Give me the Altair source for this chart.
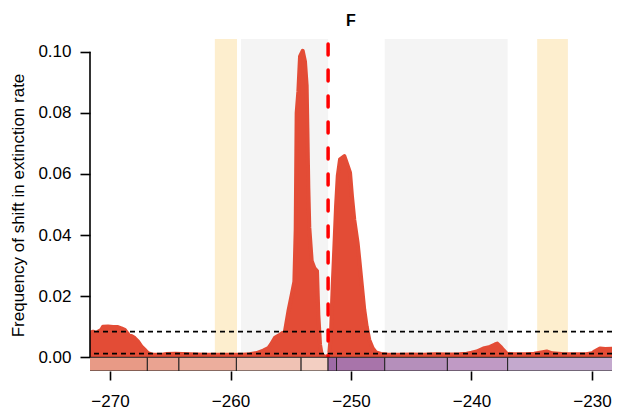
import altair as alt
import pandas as pd

# ---- data ----
age = [-271.66, -271.41, -271.2, -271.13, -271.0, -270.72, -270.58, -270.17, -269.75, -269.34,
       -269.06, -268.78, -268.56, -268.37, -268.23, -267.95, -267.68, -267.40, -267.12, -266.85,
       -266.43, -265.8, -265.3, -264.6, -264.0, -263.4, -262.8, -262.0, -261.0, -260.0,
       -259.0, -258.4, -257.83, -257.28, -256.86, -256.64, -256.31, -255.89, -255.48, -255.2,
       -254.92, -254.70, -254.59, -254.51, -254.37, -254.23, -254.01, -253.82, -253.68, -253.62,
       -253.54, -253.46, -253.26, -253.04, -252.82, -252.71, -252.57, -252.43, -252.2, -252.0,
       -251.85, -251.80, -251.66, -251.52, -251.39, -251.24, -251.10, -250.91, -250.55, -250.27,
       -250.08, -249.92, -249.73, -249.45, -249.31, -249.09, -248.90, -248.70, -248.48, -248.20,
       -247.93, -247.51, -247.0, -246.0, -245.0, -244.0, -243.0, -242.0, -241.0, -240.4,
       -240.0, -239.57, -239.02, -238.46, -238.05, -237.86, -237.58, -237.36, -237.08, -236.5,
       -235.5, -234.8, -234.32, -233.76, -233.3, -232.5, -231.5, -230.5, -230.0, -229.75,
       -229.34, -228.9, -228.34]
freq = [0.0080, 0.0084, 0.0080, 0.0068, 0.0084, 0.0090, 0.0100, 0.0101, 0.0099, 0.0099,
        0.0095, 0.0090, 0.0079, 0.0068, 0.0070, 0.0063, 0.0052, 0.0036, 0.0025, 0.0014,
        0.0008, 0.0008, 0.0011, 0.0012, 0.0011, 0.0010, 0.0009, 0.0008, 0.0008, 0.0008,
        0.0008, 0.0010, 0.0014, 0.0022, 0.0030, 0.0042, 0.0064, 0.0074, 0.0085, 0.0150,
        0.0204, 0.0248, 0.0420, 0.0800, 0.0870, 0.0985, 0.1003, 0.0968, 0.0890, 0.0750,
        0.0555, 0.0425, 0.0315, 0.0292, 0.0282, 0.0140, 0.0042, 0.0009, 0.0003, 0.0002,
        0.0008, 0.0014, 0.0080, 0.0232, 0.0352, 0.0495, 0.0593, 0.0648, 0.0658, 0.0626,
        0.0604, 0.0527, 0.0451, 0.0374, 0.0320, 0.0232, 0.0156, 0.0101, 0.0057, 0.0030,
        0.0016, 0.0011, 0.0009, 0.0008, 0.0009, 0.0008, 0.0010, 0.0009, 0.0010, 0.0012,
        0.0015, 0.0019, 0.0029, 0.0034, 0.0042, 0.0045, 0.0034, 0.0024, 0.0012, 0.0010,
        0.0010, 0.0012, 0.0015, 0.0019, 0.0013, 0.0011, 0.0010, 0.0010, 0.0013, 0.0020,
        0.0029, 0.0027, 0.0028]

band_start = [-261.3, -259.13, -247.2, -234.55]
band_end = [-259.46, -251.9, -237.0, -232.0]
band_kind = ["pulse", "interval", "interval", "pulse"]

stage_name = ["Roadian", "Wordian", "Capitanian", "Wuchiapingian", "Changhsingian",
              "Induan", "Olenekian", "Anisian", "Ladinian", "Carnian"]
stage_start = [-273.01, -266.9, -264.28, -259.51, -254.14, -251.902, -251.2, -247.2, -242.0, -237.0]
stage_end = [-266.9, -264.28, -259.51, -254.14, -251.902, -251.2, -247.2, -242.0, -237.0, -227.0]
stage_colors = ["#E89A86", "#EAA391", "#ECAE9D", "#F0C2B4", "#F3CFC2",
                "#9E6BA6", "#A874AA", "#B58FBB", "#C09AC5", "#C4A9CE"]

thresholds = [0.0084, 0.0012]
boundary_age = [-251.9]
x_ticks = [-270, -260, -250, -240, -230]
y_ticks = [0.0, 0.02, 0.04, 0.06, 0.08, 0.10]
panel_title = ["F"]
y_title = "Frequency of shift in extinction rate"

X_DOMAIN = [-271.66, -228.34]
Y_DOMAIN = [-0.00448, 0.10415]
FONT = "Liberation Sans"
W, H = 522, 332

curve = pd.DataFrame({"age": age, "freq": freq})
bands = pd.DataFrame({"start": band_start, "end": band_end, "kind": band_kind})
stages = pd.DataFrame({"stage": stage_name, "start": stage_start, "end": stage_end})
thr = pd.DataFrame({"y": thresholds})
pt = pd.DataFrame({"age": boundary_age})

xs = alt.Scale(domain=X_DOMAIN, nice=False, zero=False)
ys = alt.Scale(domain=Y_DOMAIN, nice=False, zero=False)

x_axis = alt.Axis(values=x_ticks, format="d", domain=False, grid=False, tickSize=9,
                  tickWidth=1.6, tickColor="black", labelFontSize=17, labelFont=FONT,
                  labelColor="black", labelPadding=13, title=None)
y_axis = alt.Axis(values=y_ticks, format=".2f", domain=False, grid=False, tickSize=10,
                  tickWidth=1.6, tickColor="black", labelFontSize=17, labelFont=FONT,
                  labelColor="black", labelPadding=9,
                  title=y_title, titleFont=FONT,
                  titleFontSize=17, titleFontWeight="normal", titleColor="black",
                  titlePadding=10)

band_layer = alt.Chart(bands).mark_rect(clip=True).encode(
    x=alt.X("start:Q", scale=xs, axis=x_axis),
    x2="end:Q",
    y=alt.Y("top:Q", scale=ys, axis=y_axis),
    y2="bottom:Q",
    color=alt.Color("kind:N", scale=alt.Scale(domain=["pulse", "interval"],
                                               range=["#FDEECE", "#F4F4F4"]), legend=None),
).transform_calculate(top=str(Y_DOMAIN[1]), bottom="0")

area_layer = alt.Chart(curve).mark_area(color="#E34C36", clip=True).encode(
    x=alt.X("age:Q", scale=xs),
    y=alt.Y("freq:Q", scale=ys),
)
line_layer = alt.Chart(curve).mark_line(color="#E34C36", strokeWidth=4, strokeJoin="round",
                                        strokeCap="round", clip=True).encode(
    x=alt.X("age:Q", scale=xs),
    y=alt.Y("freq:Q", scale=ys),
)

thr_layer = alt.Chart(thr).mark_rule(color="black", strokeWidth=1.6, strokeDash=[5, 4]).encode(
    y=alt.Y("y:Q", scale=ys),
)

pt_layer = alt.Chart(pt).mark_rule(color="#FF0000", strokeWidth=3.5, strokeDash=[11, 15],
                                   strokeCap="round").encode(
    x=alt.X("age:Q", scale=xs),
    y=alt.datum(0.1025),
    y2=alt.datum(0.0),
)

stage_layer = alt.Chart(stages).mark_rect(stroke="#222222", strokeWidth=1, clip=True).encode(
    x=alt.X("start:Q", scale=xs),
    x2="end:Q",
    y=alt.datum(0.0),
    y2=alt.datum(Y_DOMAIN[0]),
    color=alt.Color("stage:N", scale=alt.Scale(domain=stage_name, range=stage_colors),
                    legend=None),
)

yline_layer = alt.Chart(pd.DataFrame({"a": [0]})).mark_rule(color="black", strokeWidth=1.6).encode(
    x=alt.value(0),
    y=alt.datum(0.0),
    y2=alt.datum(0.10),
)

title_layer = alt.Chart(pd.DataFrame({"t": panel_title})).mark_text(
    font=FONT, fontSize=16, fontWeight="bold", color="black", align="center",
    baseline="alphabetic").encode(
    text="t:N",
    x=alt.value(W / 2),
    y=alt.value(-13),
)

chart = alt.layer(
    band_layer, area_layer, line_layer, thr_layer, pt_layer, stage_layer, yline_layer, title_layer
).resolve_scale(color="independent").properties(
    width=W,
    height=H,
    autosize=alt.AutoSizeParams(type="none"),
    padding={"left": 90, "top": 39, "right": 10, "bottom": 45},
    background="white",
).configure_view(stroke=None)

chart.save("out.html", embed_options={"renderer": "svg", "actions": False})
